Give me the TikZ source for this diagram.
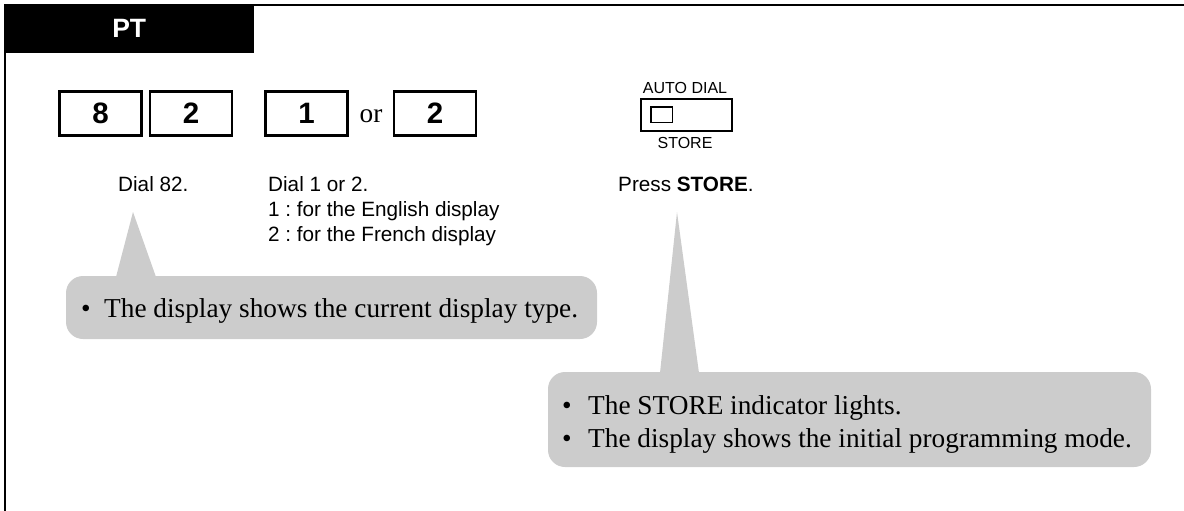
\documentclass[tikz,border=0pt]{standalone}
\usepackage{fontspec}
\setmainfont{Liberation Serif}
\setsansfont{Liberation Sans}
\frenchspacing
\definecolor{callgray}{HTML}{CCCCCC}
\begin{document}
\begin{tikzpicture}[x=1pt,y=-1pt,
  keybox/.style={draw,line width=2.6pt,minimum width=82pt,minimum height=44pt,inner sep=0pt,
    font=\sffamily\bfseries\fontsize{29.5}{29.5}\selectfont},
  label/.style={inner sep=0pt,font=\sffamily\fontsize{20.7}{25}\selectfont},
  small/.style={inner sep=0pt,font=\sffamily\fontsize{16}{18}\selectfont},
  serif/.style={inner sep=0pt,font=\rmfamily\fontsize{27.3}{32}\selectfont},
  callout/.style={fill=callgray,rounded corners=17pt}
]
\useasboundingbox (0,0) rectangle (1184,511);
% frame
\draw[line width=2.5pt] (5,511) -- (5,5) -- (1184,5);
\node[fill=black,minimum width=250pt,minimum height=49pt,anchor=north west,inner sep=0pt,
  text=white,font=\sffamily\bfseries\fontsize{26.5}{26.5}\selectfont] (tab) at (4,4) {PT};
% keys
\node[keybox] (k8) at (100.5,113.5) {8};
\node[keybox] (k2) at (191,113.5) {2};
\node[keybox] (k1) at (306.5,113.5) {1};
\node[serif,anchor=base] (or) at (371,122) {or};
\node[keybox] (k2b) at (435,113.5) {2};
% store key
\node[small,anchor=base] (ad) at (685,93) {AUTO DIAL};
\node[draw,line width=2pt,minimum width=91pt,minimum height=32pt,inner sep=0pt] (sk) at (686.5,115) {};
\node[draw,line width=1.5pt,minimum width=21.5pt,minimum height=15.5pt,inner sep=0pt] (lamp) at (661.5,114.5) {};
\node[small,anchor=base] (st) at (685,148) {STORE};
% labels
\node[label,anchor=base west] (d82) at (118,191) {Dial 82.};
\node[label,anchor=base west] (d12) at (268,191) {Dial 1 or 2.};
\node[label,anchor=base west] (d12a) at (268,216) {1 : for the English display};
\node[label,anchor=base west] (d12b) at (268,241) {2 : for the French display};
\node[label,anchor=base west] (ps) at (618,191) {Press \textbf{STORE}.};
% callout 1
\coordinate (a1) at (133,212);
\coordinate (b1l) at (116,277);
\coordinate (b1r) at (156,277);
\fill[callout] (66,276) rectangle (597,339);
\fill[callgray] (b1l) -- (a1) -- (b1r) -- cycle;
\node[serif,anchor=base] (c1b) at (86,317) {\textbullet};
\node[serif,anchor=base west] (c1t) at (104,317) {The display shows the current display type.};
% callout 2
\coordinate (a2) at (677,212);
\coordinate (b2l) at (660,373);
\coordinate (b2r) at (699,373);
\fill[callout] (548,372) rectangle (1151,467);
\fill[callgray] (b2l) -- (a2) -- (b2r) -- cycle;
\node[serif,anchor=base] (c2b1) at (567,414) {\textbullet};
\node[serif,anchor=base west] (c2t1) at (588,414) {The STORE indicator lights.};
\node[serif,anchor=base] (c2b2) at (567,447) {\textbullet};
\node[serif,anchor=base west] (c2t2) at (588,447) {The display shows the initial programming mode.};
\end{tikzpicture}
\end{document}
